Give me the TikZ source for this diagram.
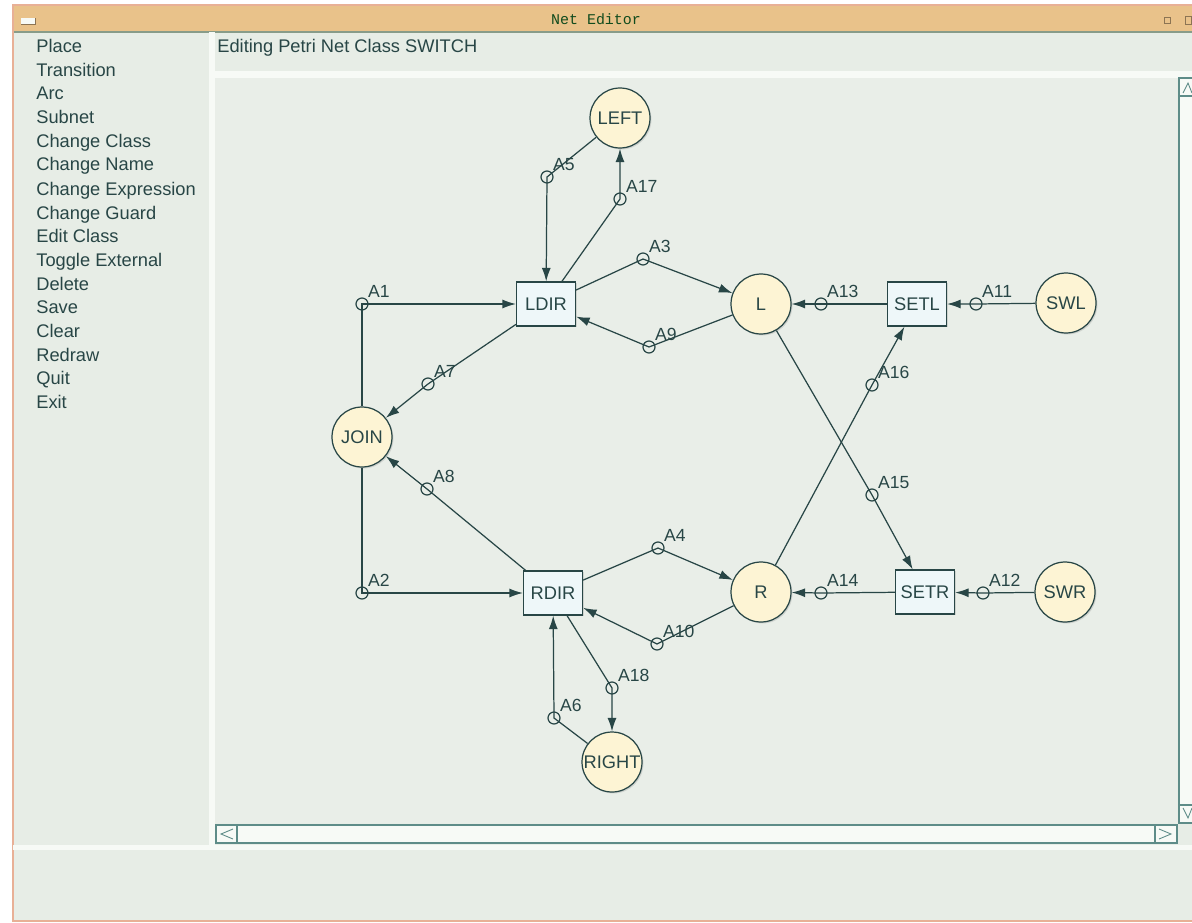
\documentclass[tikz,border=0pt]{standalone}
\usepackage{fontspec}
\setmainfont{Liberation Sans}
\newfontfamily\titlefont{Liberation Mono}
\usetikzlibrary{arrows.meta,shadows}

\definecolor{ink}{RGB}{40,70,70}
\definecolor{panel}{RGB}{231,237,230}
\definecolor{canvasbg}{RGB}{233,238,232}
\definecolor{titlebar}{RGB}{233,194,138}
\definecolor{placefill}{RGB}{253,244,212}
\definecolor{transfill}{RGB}{238,247,249}
\definecolor{edge}{RGB}{94,140,136}
\definecolor{hilite}{RGB}{247,250,246}
\definecolor{frame}{RGB}{232,176,150}

\tikzset{
  place/.style={circle, draw=ink, line width=0.7pt, fill=placefill,
    minimum size=1.2cm, inner sep=0pt, text=ink,
    drop shadow={shadow xshift=0.8pt, shadow yshift=-0.8pt, opacity=0.25}},
  transition/.style={rectangle, draw=ink, line width=0.7pt, fill=transfill,
    minimum width=1.18cm, minimum height=0.88cm, inner sep=0pt, text=ink,
    drop shadow={shadow xshift=0.8pt, shadow yshift=-0.8pt, opacity=0.25}},
  knot/.style={circle, draw=ink, line width=0.7pt, minimum size=0.24cm, inner sep=0pt},
  arclab/.style={inner sep=0.6pt, text=ink, font=\fontsize{10}{12}\selectfont},
  pnarc/.style={draw=ink, line width=0.7pt, -{Latex[length=0.27cm,width=0.18cm]}},
  menuitem/.style={anchor=base west, inner sep=0pt, text=ink, font=\fontsize{10.4}{12}\selectfont}
}

\begin{document}
\begin{tikzpicture}[x=0.02cm, y=-0.02cm, font=\fontsize{10.4}{12}\selectfont]
\useasboundingbox (0,0) rectangle (1192,922);

% window chrome
\fill[white] (0,0) rectangle (1192,922);
\fill[panel] (13,5) rectangle (1192,921);
\fill[titlebar] (13,5) rectangle (1192,32);
\draw[edge!70!titlebar, line width=0.6pt] (13,32) -- (1192,32);
\draw[frame, line width=0.8pt] (1192,5) -- (13,5) -- (13,921) -- (1192,921);
\fill[hilite] (21,18) rectangle (35,24);
\draw[titlebar!60!black, line width=0.3pt] (21,24) -- (35,24) -- (35,18);
\draw[titlebar!60!black, line width=0.4pt] (1164,17) rectangle (1170,23);
\draw[titlebar!60!black, line width=0.4pt] (1185,16) rectangle (1191,24);
\node[text=ink!70!green!60!black, font=\titlefont\fontsize{8.5}{10}\selectfont] (title) at (596,19) {Net Editor};

\fill[hilite] (209,32) rectangle (215,848);
\fill[hilite] (215,71) rectangle (1192,78);
\fill[hilite] (13,845) rectangle (1192,850);
\fill[canvasbg] (215,78) rectangle (1177,823);

% scroll bars
\fill[hilite] (216,825) rectangle (1177,843);
\draw[edge, line width=0.9pt] (216,825) rectangle (1177,843);
\draw[edge, line width=0.6pt] (237,825) -- (237,843) (1155,825) -- (1155,843);
\draw[edge, line width=0.5pt] (233,829) -- (221,834) -- (233,839);
\draw[edge, line width=0.5pt] (1159,829) -- (1171,834) -- (1159,839);
\fill[hilite] (1179,78) rectangle (1192,823);
\draw[edge, line width=0.9pt] (1192,78) -- (1179,78) -- (1179,823) -- (1192,823);
\draw[edge, line width=0.6pt] (1179,96) -- (1192,96) (1179,805) -- (1192,805);
\draw[edge, line width=0.5pt] (1183,93) -- (1188,83) -- (1192,93);
\draw[edge, line width=0.5pt] (1183,808) -- (1188,818) -- (1192,808);

% menu
\node[menuitem] (m1) at (36,53) {Place};
\node[menuitem] (m2) at (36,77) {Transition};
\node[menuitem] (m3) at (36,100) {Arc};
\node[menuitem] (m4) at (36,124) {Subnet};
\node[menuitem] (m5) at (36,148) {Change Class};
\node[menuitem] (m6) at (36,171) {Change Name};
\node[menuitem] (m7) at (36,195) {Change Expression};
\node[menuitem] (m8) at (36,219) {Change Guard};
\node[menuitem] (m9) at (36,242) {Edit Class};
\node[menuitem] (m10) at (36,266) {Toggle External};
\node[menuitem] (m11) at (36,290) {Delete};
\node[menuitem] (m12) at (36,313) {Save};
\node[menuitem] (m13) at (36,337) {Clear};
\node[menuitem] (m14) at (36,361) {Redraw};
\node[menuitem] (m15) at (36,384) {Quit};
\node[menuitem] (m16) at (36,408) {Exit};
\node[menuitem] (header) at (217,53) {Editing Petri Net Class SWITCH};

% places and transitions
\node[place] (left) at (620,118) {LEFT};
\node[transition] (ldir) at (546,304) {LDIR};
\node[place] (l) at (761,304) {L};
\node[transition] (setl) at (917,304) {SETL};
\node[place] (swl) at (1066,303) {SWL};
\node[place] (join) at (362,437) {JOIN};
\node[transition] (rdir) at (553,593) {RDIR};
\node[place] (r) at (761,592) {R};
\node[transition] (setr) at (925,592) {SETR};
\node[place] (swr) at (1065,592) {SWR};
\node[place] (right) at (612,762) {RIGHT};

% arc inscriptions
\node[knot, label={[arclab]45:A1}] (a1) at (362,304) {};
\node[knot, label={[arclab]45:A2}] (a2) at (362,593) {};
\node[knot, label={[arclab]45:A3}] (a3) at (643,259) {};
\node[knot, label={[arclab]45:A9}] (a9) at (649,347) {};
\node[knot, label={[arclab]45:A5}] (a5) at (547,177) {};
\node[knot, label={[arclab]45:A17}] (a17) at (620,199) {};
\node[knot, label={[arclab]45:A7}] (a7) at (428,384) {};
\node[knot, label={[arclab]45:A8}] (a8) at (427,489) {};
\node[knot, label={[arclab]45:A4}] (a4) at (658,548) {};
\node[knot, label={[arclab]45:A10}] (a10) at (657,644) {};
\node[knot, label={[arclab]45:A18}] (a18) at (612,688) {};
\node[knot, label={[arclab]45:A6}] (a6) at (554,718) {};
\node[knot, label={[arclab]45:A13}] (a13) at (821,304) {};
\node[knot, label={[arclab]45:A11}] (a11) at (976,304) {};
\node[knot, label={[arclab]45:A16}] (a16) at (872,385) {};
\node[knot, label={[arclab]45:A15}] (a15) at (872,495) {};
\node[knot, label={[arclab]45:A14}] (a14) at (821,593) {};
\node[knot, label={[arclab]45:A12}] (a12) at (983,593) {};

% arcs
\draw[pnarc] (join) -- (a1.center) -- (ldir);
\draw[pnarc] (join) -- (a2.center) -- (rdir);
\draw[pnarc] (ldir) -- (a3.center) -- (l);
\draw[pnarc] (l) -- (a9.center) -- (ldir);
\draw[pnarc] (left) -- (a5.center) -- (ldir);
\draw[pnarc] (ldir) -- (a17.center) -- (left);
\draw[pnarc] (ldir) -- (a7.center) -- (join);
\draw[pnarc] (rdir) -- (a8.center) -- (join);
\draw[pnarc] (rdir) -- (a4.center) -- (r);
\draw[pnarc] (r) -- (a10.center) -- (rdir);
\draw[pnarc] (rdir) -- (a18.center) -- (right);
\draw[pnarc] (right) -- (a6.center) -- (rdir);
\draw[pnarc] (setl) -- (a13.center) -- (l);
\draw[pnarc] (swl) -- (a11.center) -- (setl);
\draw[pnarc] (r) -- (a16.center) -- (setl);
\draw[pnarc] (l) -- (a15.center) -- (setr);
\draw[pnarc] (setr) -- (a14.center) -- (r);
\draw[pnarc] (swr) -- (a12.center) -- (setr);
\end{tikzpicture}
\end{document}
